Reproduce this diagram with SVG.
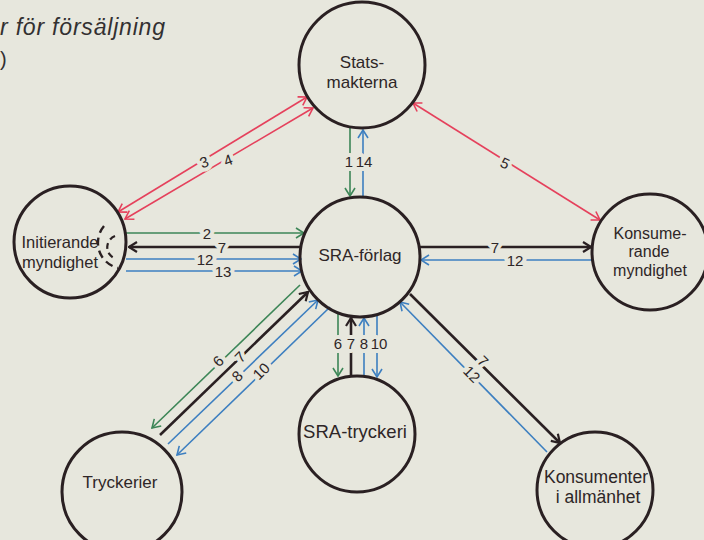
<svg xmlns="http://www.w3.org/2000/svg" width="704" height="540" viewBox="0 0 704 540">
<style>
.node{fill:none;stroke:#2a2022;stroke-width:3}
.nt{font-family:"Liberation Sans",Arial,sans-serif;fill:#2e2627;text-anchor:middle}
.lbl{font-family:"Liberation Sans",Arial,sans-serif;font-size:15px;fill:#2e2627;text-anchor:middle;dominant-baseline:central;stroke:#e7e7dd;stroke-width:8;paint-order:stroke;stroke-linejoin:round}
.rr{stroke:#e5415c;stroke-width:1.6;fill:none;marker-start:url(#ar);marker-end:url(#ar)}
.g{stroke:#3d8657;stroke-width:1.6;fill:none;marker-end:url(#ag)}
.b{stroke:#3d7fc0;stroke-width:1.6;fill:none;marker-end:url(#ab)}
.k{stroke:#2a2022;stroke-width:2.6;fill:none;marker-end:url(#ak)}
</style>
<defs>
<marker id="ar" viewBox="0 0 10 12" refX="9" refY="6" markerWidth="10" markerHeight="12" markerUnits="userSpaceOnUse" orient="auto-start-reverse"><path d="M1,1 L9,6 L1,11" fill="none" stroke="#e5415c" stroke-width="1.6"/></marker>
<marker id="ag" viewBox="0 0 10 12" refX="9" refY="6" markerWidth="10" markerHeight="12" markerUnits="userSpaceOnUse" orient="auto"><path d="M1,1 L9,6 L1,11" fill="none" stroke="#3d8657" stroke-width="1.6"/></marker>
<marker id="ab" viewBox="0 0 10 12" refX="9" refY="6" markerWidth="10" markerHeight="12" markerUnits="userSpaceOnUse" orient="auto"><path d="M1,1 L9,6 L1,11" fill="none" stroke="#3d7fc0" stroke-width="1.6"/></marker>
<marker id="ak" viewBox="0 0 10 12" refX="9" refY="6" markerWidth="10" markerHeight="12" markerUnits="userSpaceOnUse" orient="auto"><path d="M1,1 L9,6 L1,11" fill="none" stroke="#2a2022" stroke-width="2.2"/></marker>
</defs>
<rect x="0" y="0" width="704" height="540" fill="#e7e7dd"/>
<g id="heading">
<text x="0" y="35" font-family="Liberation Sans, Arial, sans-serif" font-style="italic" font-size="23" fill="#333031" textLength="165" lengthAdjust="spacing">r för försäljning</text>
<text x="0" y="66" font-family="Liberation Sans, Arial, sans-serif" font-size="20" fill="#333031">)</text>
</g>
<g id="connectors">
<path class="rr" d="M118,212 L307,97"/>
<path class="rr" d="M125,219 L313,108"/>
<path class="rr" d="M413,103 L600,220"/>
<path class="g" d="M350,128 L350,196"/>
<path class="b" d="M363,197 L363,130"/>
<path class="g" d="M126,233 L304,233"/>
<path class="k" d="M300,247 L129,247"/>
<path class="b" d="M126,259 L301,259"/>
<path class="b" d="M126,271 L302,271"/>
<path class="k" d="M420,247 L591,247"/>
<path class="b" d="M592,260 L421,260"/>
<path class="g" d="M300,285 L152,428"/>
<path class="k" d="M160,435 L308,292"/>
<path class="b" d="M168,444 L318,300"/>
<path class="b" d="M330,307 L177,455"/>
<path class="g" d="M338,313 L338,376"/>
<path class="k" d="M351,375 L351,318"/>
<path class="b" d="M364,375 L364,318"/>
<path class="b" d="M377,315 L377,377"/>
<path class="k" d="M410,294 L560,443"/>
<path class="b" d="M547,452 L400,302"/>
<path d="M104,226 A26,26 0 0 0 118,268" fill="none" stroke="#2a2022" stroke-width="2.4" stroke-dasharray="8,5"/>
<path d="M115,236 A12,12 0 0 0 114,258" fill="none" stroke="#2a2022" stroke-width="2.2" stroke-dasharray="6,4"/>
<text class="lbl" x="204" y="162" transform="rotate(-20 204 162)">3</text>
<text class="lbl" x="228" y="160" transform="rotate(-20 228 160)">4</text>
<text class="lbl" x="505" y="163" transform="rotate(25 505 163)">5</text>
<text class="lbl" x="349" y="161">1</text>
<text class="lbl" x="364" y="161">14</text>
<text class="lbl" x="207" y="233">2</text>
<text class="lbl" x="222" y="247">7</text>
<text class="lbl" x="205" y="259">12</text>
<text class="lbl" x="223" y="271">13</text>
<text class="lbl" x="495" y="247">7</text>
<text class="lbl" x="515" y="260">12</text>
<text class="lbl" x="218" y="361" transform="rotate(-45 218 361)">6</text>
<text class="lbl" x="240" y="357" transform="rotate(-45 240 357)">7</text>
<text class="lbl" x="237" y="376" transform="rotate(-45 237 376)">8</text>
<text class="lbl" x="261" y="371" transform="rotate(-45 261 371)">10</text>
<text class="lbl" x="338" y="343">6</text>
<text class="lbl" x="351" y="343">7</text>
<text class="lbl" x="364" y="343">8</text>
<text class="lbl" x="379" y="343">10</text>
<text class="lbl" x="483" y="361" transform="rotate(45 483 361)">7</text>
<text class="lbl" x="472" y="374" transform="rotate(45 472 374)">12</text>
</g>
<g id="statsmakterna">
<circle class="node" cx="362" cy="65" r="63"/>
<text class="nt" font-size="17" x="362" y="68">Stats-</text>
<text class="nt" font-size="17" x="362" y="88">makterna</text>
</g>
<g id="initierande">
<circle class="node" cx="70" cy="242" r="56"/>
<text class="nt" font-size="16.5" x="60" y="248">Initierande</text>
<text class="nt" font-size="16.5" x="60" y="268">myndighet</text>
</g>
<g id="sra-forlag">
<circle class="node" cx="360" cy="257" r="60"/>
<text class="nt" font-size="17" x="360" y="261">SRA-förlag</text>
</g>
<g id="konsumerande">
<circle class="node" cx="650" cy="252" r="58"/>
<text class="nt" font-size="16" x="650" y="239">Konsume-</text>
<text class="nt" font-size="16" x="649" y="257">rande</text>
<text class="nt" font-size="16" x="650" y="276">myndighet</text>
</g>
<g id="sra-tryckeri">
<circle class="node" cx="357" cy="434" r="58"/>
<text class="nt" font-size="18.5" x="355" y="438">SRA-tryckeri</text>
</g>
<g id="tryckerier">
<circle class="node" cx="122" cy="492" r="60"/>
<text class="nt" font-size="17" x="120" y="488">Tryckerier</text>
</g>
<g id="konsumenter">
<circle class="node" cx="595" cy="490" r="58"/>
<text class="nt" font-size="17.5" x="596" y="483">Konsumenter</text>
<text class="nt" font-size="17.5" x="598" y="503">i allmänhet</text>
</g>
</svg>
